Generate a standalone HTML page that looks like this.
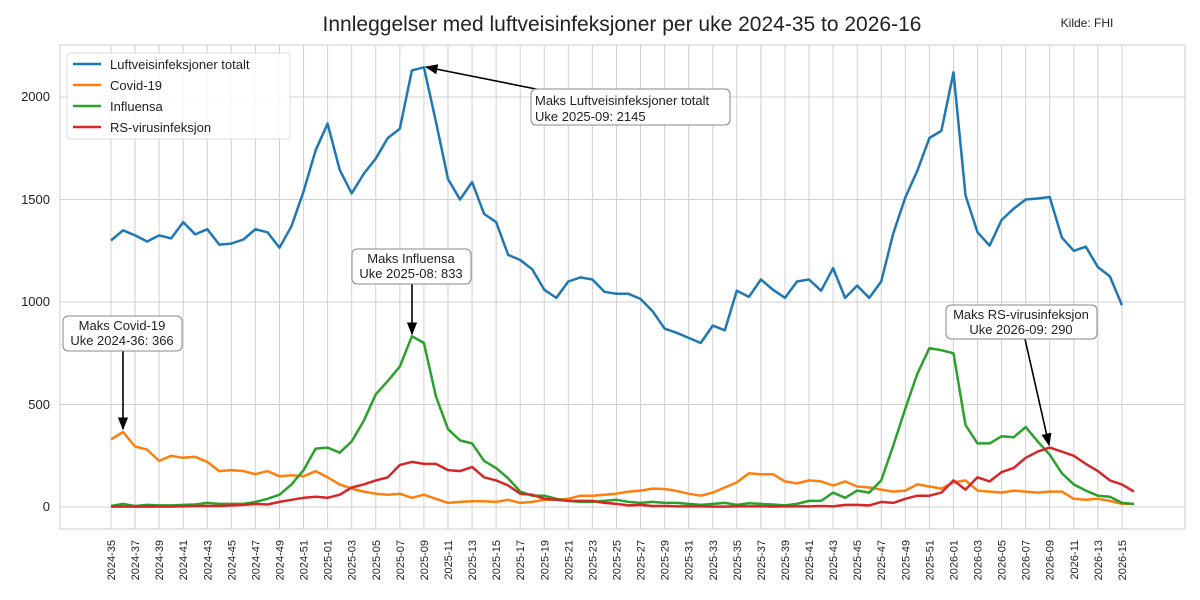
<!DOCTYPE html>
<html><head><meta charset="utf-8"><style>
body{margin:0;background:#fff}
svg{display:block;font-family:"Liberation Sans","DejaVu Sans",sans-serif}
</style></head><body>
<svg id="c" width="1200" height="600" viewBox="0 0 1200 600">
<rect width="1200" height="600" fill="#fff"/>
<g id="grid"></g>
<rect x="60" y="45" width="1125" height="484" fill="none" stroke="#ccc" stroke-width="1"/>
<g id="series"></g>
<text x="622" y="31" font-size="21" text-anchor="middle" fill="#222">Innleggelser med luftveisinfeksjoner per uke 2024-35 to 2026-16</text>
<text x="1087" y="27" font-size="12" text-anchor="middle" fill="#222">Kilde: FHI</text>
<g font-size="13" fill="#222" text-anchor="end">
<text x="50" y="511">0</text><text x="50" y="409">500</text><text x="50" y="306">1000</text><text x="50" y="204">1500</text><text x="50" y="101">2000</text>
</g>
<g id="xl" font-size="11" fill="#222" text-anchor="end">
<text>2024-35</text><text>2024-37</text><text>2024-39</text><text>2024-41</text><text>2024-43</text><text>2024-45</text><text>2024-47</text><text>2024-49</text><text>2024-51</text>
<text>2025-01</text><text>2025-03</text><text>2025-05</text><text>2025-07</text><text>2025-09</text><text>2025-11</text><text>2025-13</text><text>2025-15</text><text>2025-17</text><text>2025-19</text><text>2025-21</text><text>2025-23</text><text>2025-25</text><text>2025-27</text><text>2025-29</text><text>2025-31</text><text>2025-33</text><text>2025-35</text><text>2025-37</text><text>2025-39</text><text>2025-41</text><text>2025-43</text><text>2025-45</text><text>2025-47</text><text>2025-49</text><text>2025-51</text>
<text>2026-01</text><text>2026-03</text><text>2026-05</text><text>2026-07</text><text>2026-09</text><text>2026-11</text><text>2026-13</text><text>2026-15</text>
</g>
<g>
<rect x="67" y="53" width="223" height="86" rx="3" fill="#fff" fill-opacity="0.85" stroke="#ddd"/>
<line x1="73" y1="64" x2="101" y2="64" stroke="#1f77b4" stroke-width="2.5"/>
<line x1="73" y1="85" x2="101" y2="85" stroke="#ff7f0e" stroke-width="2.5"/>
<line x1="73" y1="106" x2="101" y2="106" stroke="#2ca02c" stroke-width="2.5"/>
<line x1="73" y1="127" x2="101" y2="127" stroke="#d62728" stroke-width="2.5"/>
<g font-size="13" fill="#222"><text x="110" y="69">Luftveisinfeksjoner totalt</text><text x="110" y="90">Covid-19</text><text x="110" y="111">Influensa</text><text x="110" y="132">RS-virusinfeksjon</text></g>
</g>
<defs><marker id="ah" viewBox="0 0 10 10" refX="9" refY="5" markerWidth="8" markerHeight="8" orient="auto-start-reverse"><path d="M0,1 L10,5 L0,9 z" fill="#000"/></marker></defs>
<g stroke="#000" stroke-width="1.6" fill="none">
<line x1="541" y1="90" x2="426" y2="67" marker-end="url(#ah)"/>
<line x1="412" y1="284" x2="412" y2="334" marker-end="url(#ah)"/>
<line x1="123" y1="351" x2="123" y2="429" marker-end="url(#ah)"/>
<line x1="1025" y1="339" x2="1049" y2="445" marker-end="url(#ah)"/>
</g>
<g font-size="13" fill="#222">
<rect x="531" y="89" width="199" height="36" rx="5" fill="#fff" stroke="#888"/>
<text x="535" y="105">Maks Luftveisinfeksjoner totalt</text><text x="535" y="121">Uke 2025-09: 2145</text>
<rect x="352" y="249" width="119" height="35" rx="5" fill="#fff" stroke="#888"/>
<text x="411" y="263" text-anchor="middle">Maks Influensa</text><text x="411" y="278" text-anchor="middle">Uke 2025-08: 833</text>
<rect x="63" y="316" width="119" height="35" rx="5" fill="#fff" stroke="#888"/>
<text x="122" y="330" text-anchor="middle">Maks Covid-19</text><text x="122" y="345" text-anchor="middle">Uke 2024-36: 366</text>
<rect x="946" y="305" width="151" height="34" rx="5" fill="#fff" stroke="#888"/>
<text x="1021" y="319" text-anchor="middle">Maks RS-virusinfeksjon</text><text x="1021" y="334" text-anchor="middle">Uke 2026-09: 290</text>
</g>
</svg>
<script>
const X=i=>111+i*12.035, Y=v=>507-0.205*v, NS="http://www.w3.org/2000/svg";
const grid=document.getElementById('grid');
function ln(x1,y1,x2,y2){const l=document.createElementNS(NS,'line');l.setAttribute('x1',x1);l.setAttribute('y1',y1);l.setAttribute('x2',x2);l.setAttribute('y2',y2);l.setAttribute('stroke','#d0d0d0');l.setAttribute('stroke-width','1');grid.appendChild(l);}
[0,500,1000,1500,2000].forEach(v=>ln(60,Y(v),1185,Y(v)));
const xl=document.querySelectorAll('#xl text');
xl.forEach((t,k)=>{const i=k*2;ln(X(i),45,X(i),529);t.setAttribute('transform',`translate(${X(i)+4},540) rotate(-90)`);});
const data={
"#1f77b4":[1300,1350,1325,1295,1325,1310,1390,1330,1355,1280,1285,1305,1355,1340,1265,1370,1540,1740,1870,1645,1530,1625,1700,1800,1845,2130,2145,1880,1600,1500,1585,1430,1390,1230,1205,1160,1060,1020,1100,1120,1110,1050,1040,1040,1015,955,870,850,825,800,885,862,1055,1025,1110,1060,1020,1100,1110,1055,1165,1020,1080,1020,1100,1335,1510,1640,1800,1835,2120,1520,1340,1275,1400,1455,1500,1505,1512,1315,1250,1270,1170,1125,985],
"#ff7f0e":[330,366,295,280,225,250,240,245,220,175,180,175,160,175,150,155,150,175,145,110,90,75,65,60,65,45,60,40,20,25,28,28,25,35,20,25,35,35,40,55,55,60,65,75,80,90,88,78,65,55,70,95,120,165,160,160,125,115,130,125,105,125,100,95,85,75,80,110,100,90,120,130,80,75,70,80,75,70,75,75,40,35,40,30,15,15],
"#2ca02c":[5,15,5,10,8,8,10,12,20,15,15,15,25,40,60,110,180,285,290,265,320,420,550,615,685,833,800,540,380,325,310,225,190,140,75,55,55,40,30,25,25,30,35,25,20,25,20,20,15,10,15,20,10,18,15,12,8,15,30,30,70,45,80,70,130,300,480,650,775,765,750,400,310,310,345,340,390,320,255,165,110,80,55,50,20,15],
"#d62728":[2,2,2,2,2,2,3,5,5,5,8,10,15,12,25,35,45,50,45,60,95,110,130,145,205,220,210,210,180,175,195,145,130,105,65,60,40,35,30,30,30,20,15,8,10,5,5,3,3,3,2,2,3,3,3,2,3,3,3,5,3,10,10,8,25,20,40,55,55,70,130,85,145,125,170,190,240,270,290,270,250,210,175,130,110,75]};
const s=document.getElementById('series');
for(const c in data){const p=document.createElementNS(NS,'polyline');p.setAttribute('points',data[c].map((v,i)=>X(i).toFixed(1)+','+Y(v).toFixed(1)).join(' '));p.setAttribute('fill','none');p.setAttribute('stroke',c);p.setAttribute('stroke-width','2.5');p.setAttribute('stroke-linejoin','round');s.appendChild(p);}
</script>
</body></html>
